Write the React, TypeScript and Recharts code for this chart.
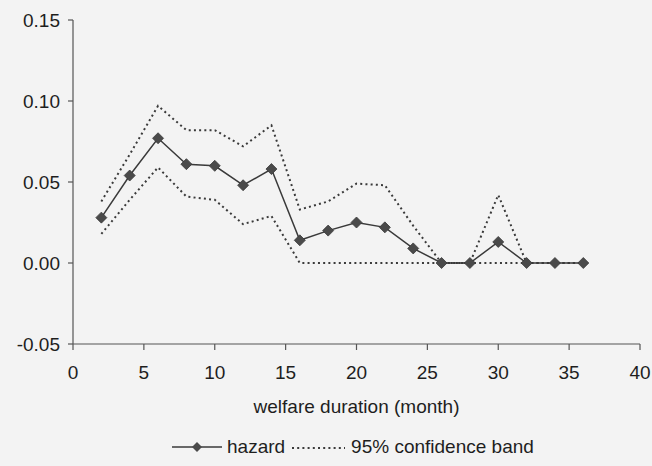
import React from "react";
import { LineChart, Line, XAxis, YAxis, Legend, Label } from "recharts";

const months = [2, 4, 6, 8, 10, 12, 14, 16, 18, 20, 22, 24, 26, 28, 30, 32, 34, 36];
const hazard = [0.028, 0.054, 0.077, 0.061, 0.06, 0.048, 0.058, 0.014, 0.02, 0.025, 0.022, 0.009, 0, 0, 0.013, 0, 0, 0];
const upper = [0.038, 0.067, 0.097, 0.082, 0.082, 0.072, 0.085, 0.033, 0.038, 0.049, 0.048, 0.023, 0, 0, 0.042, 0, 0, 0];
const lower = [0.018, 0.039, 0.059, 0.041, 0.039, 0.024, 0.029, 0, 0, 0, 0, 0, 0, 0, 0, 0, 0, 0];

const xTicks = [0, 5, 10, 15, 20, 25, 30, 35, 40];
const yTicks = [-0.05, 0, 0.05, 0.1, 0.15];

const data = months.map((m, i) => ({
  month: m,
  hazard: hazard[i],
  upper: upper[i],
  lower: lower[i],
}));

const FONT = '"Liberation Sans", Arial, sans-serif';
const FS = 19;
const AXIS = "#555";
const LINE = "#3a3a3a";
const TEXT = "#1e1e1e";

const Diamond = (props: any) => {
  const { cx, cy, index } = props;
  if (cx == null || cy == null) return <g key={`d-${index}`} />;
  const r = 5.5;
  return (
    <path
      key={`d-${index}`}
      d={`M${cx},${cy - r}L${cx + r},${cy}L${cx},${cy + r}L${cx - r},${cy}Z`}
      fill="#4a4a4a"
      stroke="#3a3a3a"
      strokeWidth={0.8}
    />
  );
};

const LegendContent = () => (
  <div
    style={{
      display: "flex",
      alignItems: "center",
      paddingTop: 13,
      paddingLeft: 172,
      fontFamily: FONT,
      fontSize: FS,
      color: TEXT,
      lineHeight: "19px",
    }}
  >
    <svg width={50} height={14} style={{ marginRight: 5 }}>
      <line x1={0} y1={7} x2={50} y2={7} stroke={LINE} strokeWidth={1.5} />
      <path d="M25,2L30,7L25,12L20,7Z" fill="#4a4a4a" />
    </svg>
    <span>hazard</span>
    <svg width={53} height={14} style={{ marginLeft: 7, marginRight: 6 }}>
      <line x1={0} y1={8} x2={53} y2={8} stroke={LINE} strokeWidth={2} strokeDasharray="2 3.2" />
    </svg>
    <span>95% confidence band</span>
  </div>
);

export default function App() {
  return (
    <div style={{ position: "absolute", left: 0, top: 0, width: 652, height: 466, background: "#f3f3f3" }}>
      <LineChart
        width={652}
        height={466}
        data={data}
        margin={{ top: 20, right: 12, left: 13, bottom: 0 }}
        style={{ fontFamily: FONT }}
      >
        <XAxis
          dataKey="month"
          type="number"
          domain={[0, 40]}
          ticks={xTicks}
          height={80}
          tickSize={6}
          tickMargin={16}
          axisLine={{ stroke: AXIS, strokeWidth: 1.2 }}
          tickLine={{ stroke: AXIS, strokeWidth: 1.2 }}
          tick={{ fill: TEXT, fontSize: FS, fontFamily: FONT }}
        >
          <Label
            value="welfare duration (month)"
            position="insideBottom"
            offset={11}
            style={{ fill: TEXT, fontSize: FS, fontFamily: FONT }}
          />
        </XAxis>
        <YAxis
          type="number"
          domain={[-0.05, 0.15]}
          ticks={yTicks}
          width={60}
          tickSize={5}
          tickMargin={8}
          tickFormatter={(v: number) => v.toFixed(2)}
          axisLine={{ stroke: AXIS, strokeWidth: 1.2 }}
          tickLine={{ stroke: AXIS, strokeWidth: 1.2 }}
          tick={{ fill: TEXT, fontSize: FS, fontFamily: FONT }}
        />
        <Legend verticalAlign="bottom" height={42} wrapperStyle={{ left: 0, width: 652 }} content={<LegendContent />} />
        <Line
          dataKey="upper"
          stroke={LINE}
          strokeWidth={2}
          strokeDasharray="2 3.2"
          dot={false}
          isAnimationActive={false}
        />
        <Line
          dataKey="lower"
          stroke={LINE}
          strokeWidth={2}
          strokeDasharray="2 3.2"
          dot={false}
          isAnimationActive={false}
        />
        <Line
          dataKey="hazard"
          stroke={LINE}
          strokeWidth={1.5}
          dot={<Diamond />}
          isAnimationActive={false}
        />
      </LineChart>
    </div>
  );
}
